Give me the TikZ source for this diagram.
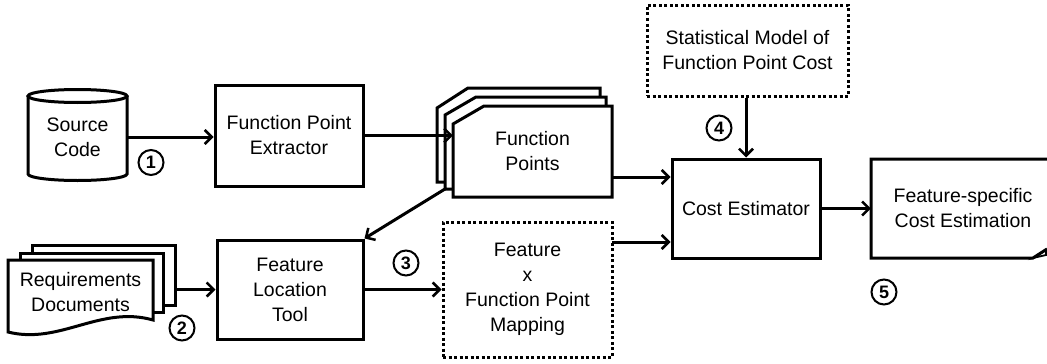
\documentclass[tikz,border=0pt]{standalone}
\usepackage{fontspec}
\setmainfont{Liberation Sans}
\usetikzlibrary{arrows.meta, calc}

\begin{document}
\begin{tikzpicture}[x=1pt, y=-1pt,
        block/.style={
                draw,
                rectangle,
                line width=3pt,
                align=center,
                inner sep=0pt,
                font=\fontsize{19.5}{25}\selectfont,
        },
        dotblock/.style={block, line width=3pt, dash pattern=on 3pt off 2.5pt},
        txt/.style={align=center, inner sep=0pt, font=\fontsize{19.5}{25}\selectfont},
        num/.style={circle, draw, line width=2pt, minimum size=25pt, inner sep=0pt,
                font=\fontsize{18}{18}\selectfont\bfseries},
        sheet/.style={line width=3pt, fill=white, line join=miter},
        flow/.style={line width=3pt, -{Straight Barb[length=7pt, width=14pt, line width=2.5pt]}},
    ]
    \useasboundingbox (0,0) rectangle (1047,364);

    % source code cylinder
    \draw[sheet] (28,96) -- (28,174) arc[start angle=180, end angle=0, x radius=49.5, y radius=6.5] -- (127,96);
    \draw[sheet] (77.5,96) ellipse[x radius=49.5, y radius=6.5];
    \node[txt, minimum width=99pt, minimum height=80pt] (src) at (77.5,137) {Source\\Code};

    % plain boxes
    \node[block, minimum width=148pt, minimum height=101pt] (fpe) at (289,135.5) {Function Point\\Extractor};
    \node[block, minimum width=146pt, minimum height=99pt] (flt) at (290,289.5) {Feature\\Location\\Tool};
    \node[block, minimum width=148pt, minimum height=99pt] (cost) at (746,208.5) {Cost Estimator};
    \node[dotblock, minimum width=201pt, minimum height=91pt] (stat) at (747.5,50.5) {Statistical Model of\\Function Point Cost};
    \node[dotblock, minimum width=169pt, minimum height=135pt] (map) at (527.5,289.5) {Feature\\x\\Function Point\\Mapping};

    % stack of function point sheets
    \draw[sheet] (437,108) -- (437,182) -- (600,182) -- (600,88) -- (468,88) -- cycle;
    \draw[sheet] (445,115) -- (445,189) -- (606,189) -- (606,97) -- (476,97) -- cycle;
    \draw[sheet] (453,124) -- (453,197) -- (612,197) -- (612,106) -- (484,106) -- cycle;
    \node[txt, minimum width=159pt, minimum height=91pt] (fp) at (532.5,151.5) {Function\\Points};
    \coordinate (fpmid) at (445,189);
    \coordinate (fpout) at (612,177);

    % stack of requirement documents
    \draw[sheet] (32,245) rectangle (175,305);
    \draw[sheet] (20,253) rectangle (163,312);
    \draw[sheet] (8,260) -- (8,332) .. controls (60,345) and (100,305) .. (153,320) -- (153,260) -- cycle;
    \node[txt, minimum width=145pt] (req) at (80.5,292) {Requirements\\Documents};
    \coordinate (reqout) at (175,289.5);
    \coordinate (mapout) at (612,242);

    % output sheet with folded corner
    \draw[sheet] (1047,159) -- (871,159) -- (871,258) -- (1033,258) -- (1047,249);
    \draw[line width=1.8pt, line join=miter] (1033,258) -- (1046,250) -- (1046,255) -- cycle;
    \node[txt, minimum width=184pt, minimum height=99pt] (feat) at (963,208.5) {Feature-specific\\Cost Estimation};

    % connectors
    \draw[flow] (src.east) -- (src.east -| fpe.west);
    \draw[flow] (fpe.east) -- (fpe.east -| fp.west);
    \draw[flow] (fpout) -- (fpout -| cost.west);
    \draw[flow] (mapout) -- (mapout -| cost.west);
    \draw[flow] (fpmid) -- (flt.north east);
    \draw[flow] (reqout) -- (flt.west);
    \draw[flow] (flt.east) -- (map.west);
    \draw[flow] (stat.south -| cost.north) -- (cost.north);
    \draw[flow] (cost.east) -- (feat.west);

    % step numbers
    \node[num] (n1) at (151,162.5) {1};
    \node[num] (n2) at (182,328) {2};
    \node[num] (n3) at (406,263) {3};
    \node[num] (n4) at (719,128) {4};
    \node[num] (n5) at (884,292) {5};
\end{tikzpicture}
\end{document}
